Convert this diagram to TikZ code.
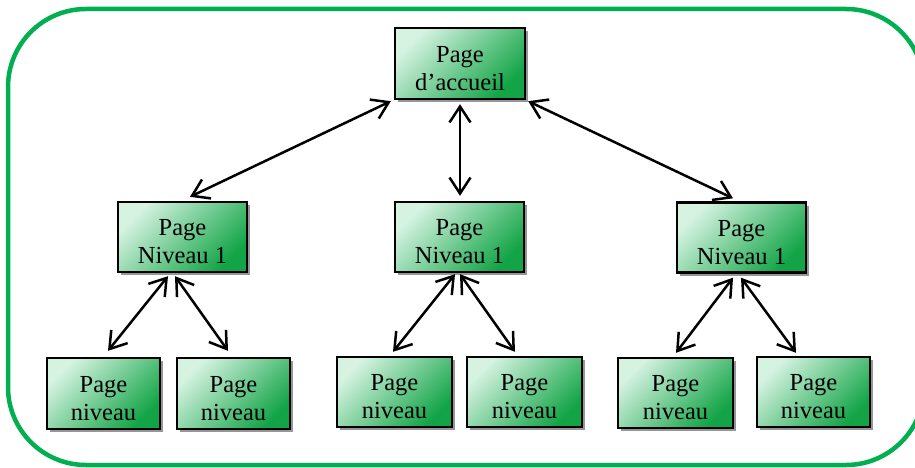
\documentclass[tikz,border=0pt]{standalone}
\usepackage{fontspec}
\setmainfont{Liberation Serif}
\usetikzlibrary{arrows.meta,calc,shadows}

\definecolor{frameGreen}{RGB}{0,176,80}
\definecolor{boxLight}{RGB}{214,243,226}
\definecolor{boxMid}{RGB}{160,222,180}
\definecolor{boxDark}{RGB}{18,164,70}
\definecolor{shadowGray}{RGB}{150,150,150}

\tikzset{
  pagebox/.style={
    draw=black, line width=2.4pt, rectangle, align=center,
    top color=boxLight, middle color=boxMid, bottom color=boxDark,
    shading angle=45,
    general shadow={fill=shadowGray, shadow xshift=3pt, shadow yshift=-3pt},
    font=\fontsize{24.5}{28}\selectfont, inner sep=0pt
  },
  widebox/.style={pagebox, minimum width=129pt, minimum height=70pt},
  leafbox/.style={pagebox, minimum width=114pt, minimum height=70pt},
  link/.style={black, line width=2.5pt,
    {Straight Barb[length=16pt,width=21pt]}-{Straight Barb[length=16pt,width=21pt]}}
}
% two centred lines, set a little below the middle of the box
\newcommand{\twolines}[2]{\rule{0pt}{26pt}#1\\#2}

\begin{document}
\begin{tikzpicture}[x=1pt,y=-1pt]
  \useasboundingbox (0,0) rectangle (915,468);

  % outer frame
  \draw[frameGreen, line width=4.5pt, rounded corners=78pt] (8,9) rectangle (924,465);

  % home page
  \node[widebox, minimum width=130pt, minimum height=71pt] (home) at (460,63.5) {\twolines{Page}{d’accueil}};

  % first level
  \node[widebox] (la) at (182.5,237) {\twolines{Page}{Niveau 1}};
  \node[widebox] (lb) at (459.5,237) {\twolines{Page}{Niveau 1}};
  \node[widebox] (lc) at (741.5,237.5) {\twolines{Page}{Niveau 1}};

  % second level
  \node[leafbox, minimum width=113pt, minimum height=71pt] (a1) at (103.5,393.5) {\twolines{Page}{niveau}};
  \node[leafbox, minimum width=113pt, minimum height=71pt] (a2) at (233.5,393.5) {\twolines{Page}{niveau}};
  \node[leafbox, minimum width=115pt] (b1) at (394.5,392) {\twolines{Page}{niveau}};
  \node[leafbox, minimum width=115pt] (b2) at (524.5,392) {\twolines{Page}{niveau}};
  \node[leafbox, minimum width=115pt] (c1) at (675.5,393) {\twolines{Page}{niveau}};
  \node[leafbox, minimum width=113pt] (c2) at (813.5,392) {\twolines{Page}{niveau}};

  % links from the home page
  \draw[link] ($(home.south west)+(-3,1)$) -- ($(la.north)+(7.5,-4)$);
  \draw[link] ($(home.south)+(0,4)$) -- ($(lb.north)+(0.5,-5)$);
  \draw[link] ($(home.south east)+(2,1)$) -- ($(lc.north)+(-8.5,-3)$);

  % links from the first level
  \draw[link] ($(la.south)+(-14.5,3)$) -- ($(a1.north)+(4.5,-6)$);
  \draw[link] ($(la.south)+(-7.5,3)$) -- ($(a2.north)+(-5.5,-6)$);
  \draw[link] ($(lb.south)+(-4.5,1)$) -- ($(b1.north)+(-1.5,-4)$);
  \draw[link] ($(lb.south)+(0.5,1)$) -- ($(b2.north)+(-9.5,-4)$);
  \draw[link] ($(lc.south)+(-8.5,4)$) -- ($(c1.north)+(0.5,-4)$);
  \draw[link] ($(lc.south)+(-0.5,4)$) -- ($(c2.north)+(-17.5,-3)$);
\end{tikzpicture}
\end{document}
